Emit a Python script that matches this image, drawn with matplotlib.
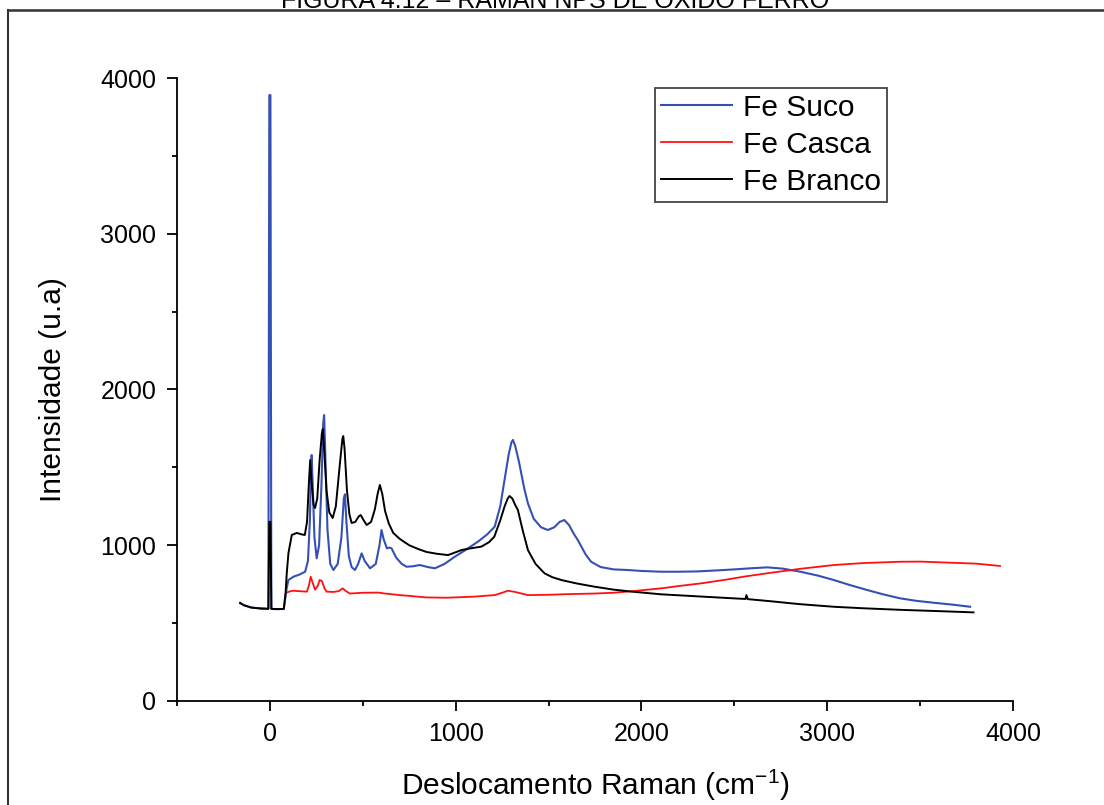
import matplotlib
matplotlib.use("Agg")
import matplotlib.pyplot as plt
from matplotlib.lines import Line2D
from matplotlib.ticker import MultipleLocator

plt.rcParams['font.family'] = ['Liberation Sans', 'DejaVu Sans']
plt.rcParams['mathtext.default'] = 'regular'

# Fe Suco (blue)
suco_x = [-160, -140, -100, -50, -8, -3, 3, 8, 12, 40, 75, 90, 100, 127, 160, 190, 205, 215,
          222, 225, 230, 240, 252, 265, 278, 287, 292, 298, 310, 325, 342, 365, 385, 398, 404,
          412, 425, 440, 458, 475, 494, 510, 539, 570, 590, 601, 612, 630, 645, 655, 680, 710,
          736, 770, 807, 850, 888, 940, 995, 1060, 1120, 1170, 1210, 1240, 1263, 1285, 1300,
          1308, 1320, 1340, 1353, 1370, 1389, 1420, 1460, 1496, 1530, 1560, 1585, 1610, 1635,
          1657, 1700, 1729, 1780, 1850, 1925, 2000, 2105, 2200, 2300, 2400, 2500, 2588, 2677,
          2760, 2856, 2950, 3035, 3120, 3214, 3300, 3393, 3480, 3572, 3680, 3769]
suco_y = [629, 615, 600, 594, 592, 3890, 3890, 592, 591, 590, 591, 720, 777, 798, 812, 830, 900, 1150,
          1500, 1579, 1400, 1050, 916, 1000, 1400, 1780, 1836, 1600, 1100, 880, 841, 880, 1050, 1300, 1327,
          1150, 930, 860, 841, 880, 948, 900, 852, 880, 1000, 1098, 1040, 980, 985, 980, 920, 880,
          862, 865, 873, 860, 852, 880, 926, 975, 1023, 1070, 1119, 1250, 1419, 1580, 1660,
          1676, 1640, 1540, 1462, 1360, 1269, 1170, 1115, 1098, 1115, 1150, 1162, 1130, 1075,
          1034, 940, 894, 860, 845, 841, 835, 830, 830, 832, 838, 845, 852, 858,
          850, 830, 805, 777, 745, 713, 685, 659, 643, 631, 618, 605]

# Fe Casca (red)
casca_x = [91, 110, 127, 160, 199, 210, 220, 230, 243, 258, 268, 280, 295, 306, 340, 370, 392, 410,
           431, 500, 583, 620, 700, 843, 950, 1100, 1210, 1250, 1281, 1320, 1389, 1500, 1600, 1747,
           1850, 1950, 2105, 2200, 2319, 2450, 2560, 2677, 2850, 3035, 3200, 3393, 3500, 3662, 3800, 3930]
casca_y = [696, 705, 708, 705, 702, 740, 798, 760, 715, 740, 777, 770, 720, 702, 700, 705, 723, 705,
           690, 695, 696, 690, 680, 665, 663, 670, 680, 695, 708, 700, 680, 682, 686, 690,
           695, 705, 723, 738, 755, 778, 800, 820, 848, 873, 886, 894, 895, 888, 882, 867]

# Fe Branco (black)
branco_x = [-160, -140, -100, -50, -8, -3, 3, 8, 12, 40, 75, 85, 91, 100, 118, 145, 170, 188, 200,
            210, 217, 225, 235, 243, 255, 268, 280, 285, 293, 305, 320, 338, 355, 375, 390, 395,
            402, 415, 428, 440, 460, 478, 489, 505, 521, 545, 565, 580, 592, 605, 620, 640, 664,
            700, 750, 800, 843, 900, 959, 1000, 1031, 1080, 1138, 1180, 1208, 1240, 1263, 1280,
            1290, 1305, 1320, 1335, 1360, 1389, 1430, 1478, 1520, 1568, 1650, 1747, 1850, 1950,
            2105, 2300, 2498, 2560, 2565, 2572, 2700, 2850, 3035, 3200, 3400, 3600, 3787]
branco_y = [629, 615, 600, 594, 592, 1150, 1150, 592, 591, 590, 591, 700, 822, 950, 1066, 1079, 1070, 1066, 1150,
            1400, 1547, 1400, 1260, 1239, 1300, 1550, 1720, 1746, 1600, 1350, 1210, 1175, 1250, 1500, 1680, 1701,
            1620, 1350, 1200, 1143, 1150, 1185, 1194, 1160, 1130, 1150, 1230, 1330, 1387, 1330, 1220, 1140, 1079,
            1040, 1000, 975, 957, 945, 937, 955, 969, 980, 991, 1020, 1055, 1160, 1248, 1300,
            1316, 1300, 1260, 1226, 1100, 969, 880, 820, 795, 777, 755, 734, 715, 702,
            685, 672, 659, 655, 680, 654, 640, 622, 605, 595, 585, 577, 569]

fig = plt.figure(figsize=(11.04, 8.05), dpi=100)
ax = fig.add_axes([0.1603, 0.1292, 0.7573, 0.7739])

ax.plot(suco_x, suco_y, color='#3550b5', lw=1.5, label='Fe Suco')
ax.plot(casca_x, casca_y, color='#ff1010', lw=1.3, label='Fe Casca')
ax.plot(branco_x, branco_y, color='black', lw=1.4, label='Fe Branco')

ax.set_xlim(-500, 4000)
ax.set_ylim(0, 4000)
ax.xaxis.set_major_locator(MultipleLocator(1000))
ax.xaxis.set_minor_locator(MultipleLocator(500))
ax.yaxis.set_major_locator(MultipleLocator(1000))
ax.yaxis.set_minor_locator(MultipleLocator(500))

ax.spines['top'].set_visible(False)
ax.spines['right'].set_visible(False)
for s in ['left', 'bottom']:
    ax.spines[s].set_linewidth(1.3)
ax.tick_params(which='major', direction='out', length=7, width=1.3, labelsize=18, pad=8)
ax.tick_params(which='minor', direction='out', length=3.5, width=1.3)

ax.set_xlabel(r'Deslocamento Raman (cm$^{-1}$)', fontsize=21.5, labelpad=16)
ax.set_ylabel('Intensidade (u.a)', fontsize=21.5, labelpad=24)

leg = ax.legend(loc='upper right', bbox_to_anchor=(0.849, 0.984), borderaxespad=0,
                fontsize=21.5, fancybox=False, edgecolor='#444444', framealpha=1,
                handlelength=2.4, handletextpad=0.35, labelspacing=0.3, borderpad=0.2)
leg.get_frame().set_linewidth(1.3)

# page decoration: cut-off caption and frame
fig.text(0.503, 0.990, 'FIGURA 4.12 – RAMAN NPS DE ÓXIDO FERRO', ha='center', va='baseline',
         fontsize=18)
fig.add_artist(Line2D([0.007, 1.0], [0.987, 0.987], color='#333333', lw=1.8))
fig.add_artist(Line2D([0.0075, 0.0075], [0.0, 0.987], color='#333333', lw=1.5))

fig.savefig('out.png', dpi=100)
